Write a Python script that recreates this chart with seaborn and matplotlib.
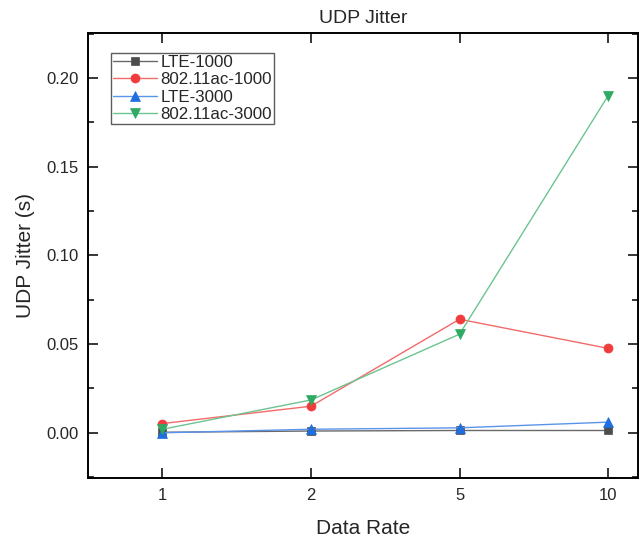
import matplotlib
matplotlib.use("Agg")
import matplotlib.pyplot as plt
import seaborn as sns
import pandas as pd
from matplotlib.ticker import MultipleLocator

categories = ["1", "2", "5", "10"]
lte_1000 = [0.0003, 0.001, 0.0013, 0.0013]
wifi_1000 = [0.0052, 0.015, 0.064, 0.0476]
lte_3000 = [0.0, 0.002, 0.0028, 0.006]
wifi_3000 = [0.002, 0.0185, 0.0556, 0.190]

series_names = ["LTE-1000", "802.11ac-1000", "LTE-3000", "802.11ac-3000"]
series_vals = [lte_1000, wifi_1000, lte_3000, wifi_3000]

sns.set_style("white")
plt.rcParams['font.family'] = ['Liberation Sans', 'DejaVu Sans']

rows = []
for name, vals in zip(series_names, series_vals):
    for i, (c, v) in enumerate(zip(categories, vals)):
        rows.append({"series": name, "pos": i, "value": v})
df = pd.DataFrame(rows)

fig = plt.figure(figsize=(6.43, 5.42), dpi=100)
ax = fig.add_axes([0.137, 0.118, 0.855, 0.821])

styles = {
    "LTE-1000": dict(color="#4d4d4d", lc="#6a6a6a", marker="s", ms=6),
    "802.11ac-1000": dict(color="#f03c3c", lc="#f26a6a", marker="o", ms=6.5),
    "LTE-3000": dict(color="#1f6fe0", lc="#5a94ea", marker="^", ms=7),
    "802.11ac-3000": dict(color="#2eaa62", lc="#6cc490", marker="v", ms=7),
}

for name in series_names:
    st = styles[name]
    sub = df[df.series == name]
    sns.lineplot(data=sub, x="pos", y="value", ax=ax, color=st["lc"],
                 marker=st["marker"], markersize=st["ms"], markerfacecolor=st["color"],
                 markeredgecolor=st["color"], markeredgewidth=0.5, linewidth=1.0, label=name)

ax.set_xlim(-0.5, 3.2)
ax.set_ylim(-0.0255, 0.2253)
ax.set_xticks(range(len(categories)))
ax.set_xticklabels(categories)
ax.yaxis.set_major_locator(MultipleLocator(0.05))
ax.yaxis.set_minor_locator(MultipleLocator(0.025))
ax.yaxis.set_major_formatter(matplotlib.ticker.FormatStrFormatter("%.2f"))

ax.tick_params(axis="both", which="major", direction="in", length=7, width=1.3,
               top=True, right=True, left=True, bottom=True, labelsize=12, pad=7)
ax.tick_params(axis="y", which="minor", direction="in", length=4, width=1.3,
               left=True, right=True)
for sp in ax.spines.values():
    sp.set_linewidth(1.4)
    sp.set_color("black")

ax.set_xlabel("Data Rate", fontsize=15, labelpad=12)
ax.set_ylabel("UDP Jitter (s)", fontsize=15, labelpad=8)
ax.set_title("UDP Jitter", fontsize=14, pad=7)

leg = ax.legend(loc="upper left", bbox_to_anchor=(0.042, 0.955), fontsize=12.2,
                frameon=True, fancybox=False, handlelength=2.6,
                borderpad=0.1, labelspacing=0.15, handletextpad=0.2, borderaxespad=0,
                markerscale=1.0)
leg.get_frame().set_edgecolor("#333333")
leg.get_frame().set_linewidth(1.0)

fig.savefig("out.png", dpi=100)
